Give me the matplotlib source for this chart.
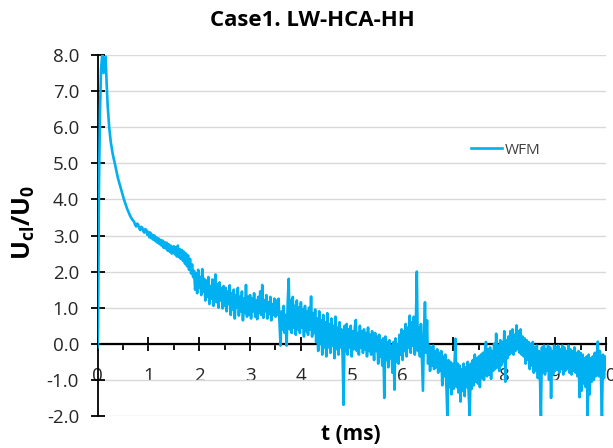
import matplotlib
matplotlib.use("Agg")
import matplotlib.pyplot as plt
from matplotlib.ticker import MultipleLocator, FormatStrFormatter

plt.rcParams['axes.unicode_minus'] = False
plt.rcParams['mathtext.fontset'] = 'custom'
plt.rcParams['mathtext.rm'] = 'Open Sans'
plt.rcParams['mathtext.bf'] = 'Open Sans:bold'

title = "Case1. LW-HCA-HH"
series_name = "WFM"
x_label = "t (ms)"
y_label = r"$\mathbf{U_{cl}/U_{0}}$"
x_ticks = [0, 1, 2, 3, 4, 5, 6, 7, 8, 9, 10]
y_ticks = [-2, -1, 0, 1, 2, 3, 4, 5, 6, 7, 8]

time_ms = [
    0.00, 0.01, 0.02, 0.03, 0.05, 0.07, 0.09, 0.10, 0.12, 0.14, 0.16, 0.18,
    0.20, 0.23, 0.26, 0.30, 0.34, 0.40, 0.46, 0.52, 0.58, 0.64, 0.68,
    # A
    0.72, 0.74, 0.76, 0.78, 0.80, 0.82, 0.84, 0.86, 0.88, 0.90, 0.92, 0.94, 0.96,
    # B
    0.98, 1.00, 1.02, 1.04, 1.06, 1.08, 1.10, 1.12, 1.14, 1.16, 1.18, 1.20, 1.22,
    1.24, 1.26, 1.28, 1.30, 1.32, 1.34, 1.36, 1.38, 1.40, 1.42, 1.44, 1.46, 1.48,
    # C
    1.50, 1.52, 1.54, 1.56, 1.58, 1.60, 1.62, 1.64, 1.66, 1.68, 1.70, 1.72, 1.74,
    1.76, 1.78, 1.80, 1.82, 1.84, 1.86, 1.88,
    # D
    1.90, 1.92, 1.94, 1.96, 1.98, 2.00, 2.02, 2.04, 2.06, 2.08, 2.10, 2.12, 2.14,
    2.16, 2.18, 2.20, 2.22, 2.24, 2.26, 2.28, 2.30, 2.32, 2.34, 2.36, 2.38, 2.40,
    2.42, 2.44, 2.46, 2.48,
    # E
    2.50, 2.52, 2.54, 2.56, 2.58, 2.60, 2.62, 2.64, 2.66, 2.68, 2.70, 2.72, 2.74,
    2.76, 2.78, 2.80, 2.82, 2.84, 2.86, 2.88, 2.90, 2.92, 2.94, 2.96,
    # F
    2.98, 3.00, 3.02, 3.04, 3.06, 3.08, 3.10, 3.12, 3.14, 3.16, 3.18, 3.20, 3.22,
    3.24, 3.26, 3.28, 3.30, 3.32, 3.34, 3.36, 3.38, 3.40, 3.42, 3.44, 3.46, 3.48,
    # G
    3.50, 3.52, 3.54, 3.56, 3.58, 3.60, 3.62, 3.64, 3.66, 3.68, 3.70, 3.72, 3.74,
    3.76, 3.78, 3.80, 3.82, 3.84, 3.86, 3.88, 3.90, 3.92, 3.94, 3.96,
    # H
    3.98, 4.00, 4.02, 4.04, 4.06, 4.08, 4.10, 4.12, 4.14, 4.16, 4.18, 4.20, 4.22,
    4.24, 4.26, 4.28, 4.30, 4.32, 4.34, 4.36, 4.38, 4.40, 4.42, 4.44, 4.46, 4.48,
    # I
    4.50, 4.52, 4.54, 4.56, 4.58, 4.60, 4.62, 4.64, 4.66, 4.68, 4.70, 4.72, 4.74,
    4.76, 4.78, 4.80, 4.82, 4.84, 4.86, 4.88, 4.90, 4.92, 4.94, 4.96,
    # J
    4.98, 5.00, 5.02, 5.04, 5.06, 5.08, 5.10, 5.12, 5.14, 5.16, 5.18, 5.20, 5.22,
    5.24, 5.26, 5.28, 5.30, 5.32, 5.34, 5.36, 5.38, 5.40, 5.42, 5.44, 5.46, 5.48,
    # K
    5.50, 5.52, 5.54, 5.56, 5.58, 5.60, 5.62, 5.64, 5.66, 5.68, 5.70, 5.72, 5.74,
    5.76, 5.78, 5.80, 5.82, 5.84, 5.86, 5.88, 5.90, 5.92, 5.94, 5.96,
    # L
    5.98, 6.00, 6.02, 6.04, 6.06, 6.08, 6.10, 6.12, 6.14, 6.16, 6.18, 6.20, 6.22,
    6.24, 6.26, 6.28, 6.30, 6.32, 6.34, 6.36, 6.38, 6.40, 6.42, 6.44, 6.46, 6.48,
    # M
    6.50, 6.52, 6.54, 6.56, 6.58, 6.60, 6.62, 6.64, 6.66, 6.68, 6.70, 6.72, 6.74,
    6.76, 6.78, 6.80, 6.82, 6.84, 6.86, 6.88, 6.90, 6.92, 6.94, 6.96,
    # N
    6.98, 7.00, 7.02, 7.04, 7.06, 7.08, 7.10, 7.12, 7.14, 7.16, 7.18, 7.20, 7.22,
    7.24, 7.26, 7.28, 7.30, 7.32, 7.34, 7.36, 7.38, 7.40, 7.42, 7.44, 7.46, 7.48,
    # O
    7.50, 7.52, 7.54, 7.56, 7.58, 7.60, 7.62, 7.64, 7.66, 7.68, 7.70, 7.72, 7.74,
    7.76, 7.78, 7.80, 7.82, 7.84, 7.86, 7.88, 7.90, 7.92, 7.94, 7.96,
    # P
    7.98, 8.00, 8.02, 8.04, 8.06, 8.08, 8.10, 8.12, 8.14, 8.16, 8.18, 8.20, 8.22,
    8.24, 8.26, 8.28, 8.30, 8.32, 8.34, 8.36, 8.38, 8.40, 8.42, 8.44, 8.46, 8.48,
    # Q
    8.50, 8.52, 8.54, 8.56, 8.58, 8.60, 8.62, 8.64, 8.66, 8.68, 8.70, 8.72, 8.74,
    8.76, 8.78, 8.80, 8.82, 8.84, 8.86, 8.88, 8.90, 8.92, 8.94, 8.96,
    # R
    8.98, 9.00, 9.02, 9.04, 9.06, 9.08, 9.10, 9.12, 9.14, 9.16, 9.18, 9.20, 9.22,
    9.24, 9.26, 9.28, 9.30, 9.32, 9.34, 9.36, 9.38, 9.40, 9.42, 9.44, 9.46, 9.48,
    # S
    9.50, 9.52, 9.54, 9.56, 9.58, 9.60, 9.62, 9.64, 9.66, 9.68, 9.70, 9.72, 9.74,
    9.76, 9.78, 9.80, 9.82, 9.84, 9.86, 9.88, 9.90, 9.92, 9.94, 9.96, 9.98, 10.00,
]

u_ratio = [
    -0.10, 0.30, 2.50, 4.50, 6.50, 7.60, 7.95, 8.00, 7.50, 7.90, 7.95, 7.20,
    6.60, 6.00, 5.60, 5.25, 5.00, 4.60, 4.30, 4.00, 3.75, 3.55, 3.45,
    # A
    3.38, 3.30, 3.25, 3.33, 3.30, 3.20, 3.15, 3.24, 3.22, 3.12, 3.08, 3.18, 3.15,
    # B
    3.02, 3.10, 2.95, 3.08, 2.92, 3.02, 2.88, 3.00, 2.84, 2.95, 2.80, 2.92, 2.76,
    2.88, 2.72, 2.86, 2.66, 2.82, 2.64, 2.80, 2.58, 2.76, 2.55, 2.72, 2.50, 2.68,
    # C
    2.70, 2.48, 2.68, 2.42, 2.72, 2.40, 2.62, 2.35, 2.60, 2.30, 2.55, 2.22, 2.50,
    2.15, 2.45, 2.05, 2.35, 1.95, 2.20, 1.85,
    # D
    2.02, 1.50, 1.95, 1.40, 2.05, 1.55, 1.85, 1.35, 2.07, 1.45, 1.80, 1.20, 1.75,
    1.30, 1.85, 1.10, 1.60, 1.25, 1.78, 1.05, 1.55, 1.92, 1.15, 1.65, 1.00, 1.70,
    1.20, 1.55, 0.98, 1.60,
    # E
    1.05, 1.55, 0.90, 1.45, 1.10, 1.62, 0.80, 1.40, 0.95, 1.50, 0.70, 1.35, 1.00,
    1.55, 0.78, 1.30, 0.90, 1.45, 0.65, 1.25, 0.85, 1.63, 0.75, 1.30,
    # F
    0.80, 1.35, 0.70, 1.25, 0.90, 1.40, 0.75, 1.20, 0.68, 1.30, 0.85, 1.45, 0.80,
    1.63, 0.72, 1.20, 0.90, 1.35, 0.70, 1.15, 0.82, 1.30, 0.65, 1.10, 0.80, 1.25,
    # G
    0.75, 1.20, 0.80, 1.25, 0.55, -0.05, 0.90, 0.40, 1.05, 0.30, 0.80, -0.05, 1.10,
    1.80, 0.40, 1.20, 0.30, 1.30, 0.45, 1.05, 0.25, 1.20, 0.40, 1.00,
    # H
    0.30, 1.15, 0.45, 0.95, 0.20, 1.05, 0.35, 0.90, 0.25, 1.00, 0.40, 1.31, 0.20,
    0.85, 0.30, 0.95, 0.05, 0.70, -0.20, 0.90, 0.00, 0.65, -0.30, 0.80, -0.10, 0.60,
    # I
    -0.35, 0.85, -0.10, 0.55, -0.25, 0.70, -0.05, 0.50, -0.40, 0.75, -0.15, 0.45, -0.30,
    0.60, -0.10, 0.40, -0.35, -1.69, 0.50, -0.20, 0.55, -0.30, 0.40, -0.10,
    # J
    0.50, -0.35, 0.35, -0.15, 0.45, 0.66, -0.20, 0.30, -0.30, 0.50, -0.10, 0.35, -0.25,
    0.40, -0.15, 0.30, -0.35, 0.45, -0.20, 0.25, -0.30, 0.35, -0.10, -0.45, 0.30, -0.20,
    # K
    0.20, -0.55, 0.25, -0.35, 0.10, -0.60, 0.15, -1.50, 0.20, -0.45, 0.05, -0.65, 0.10,
    -0.40, -0.05, -0.80, 0.05, -1.27, 0.15, -0.50, 0.00, -0.55, 0.25, -0.30,
    # L
    0.40, -0.45, 0.35, -0.20, 0.55, -0.35, 0.45, -0.10, 0.78, -0.25, 0.60, -0.05, 0.75,
    -0.30, 0.50, 2.00, -0.20, 0.45, -0.35, 0.55, -0.40, -1.30, 0.30, 1.15, -0.25, 0.65,
    # M
    -0.55, -0.05, -0.75, -0.10, -0.60, -0.05, -0.70, -0.20, -0.65, -0.15, -0.80, -0.25, -0.75,
    -0.20, -1.15, -0.35, -0.90, -0.30, -1.10, -2.00, -0.45, -1.20, -0.50, -1.40,
    # N
    -0.55, -1.25, -0.60, 0.14, -1.20, -0.55, -1.35, -0.60, -1.60, -0.70, -1.30, -0.55, -1.45,
    -0.65, -1.20, -0.50, -1.40, -2.00, -0.55, -1.25, -0.45, -1.15, -0.30, -1.05, -0.40, -1.10,
    # O
    -0.35, -1.20, -0.30, -0.95, -0.25, -1.00, -0.20, 0.05, -0.90, -0.15, -0.85, -0.10, -0.97,
    -0.20, -0.75, 0.00, -0.70, 0.28, -0.65, -0.05, -0.75, 0.10, -0.60, 0.05,
    # P
    -0.50, 0.35, -1.05, 0.10, -0.40, 0.20, -0.30, 0.35, -0.25, 0.40, -0.30, 0.25, -0.20,
    0.51, -0.15, 0.35, -0.25, 0.40, -0.30, 0.20, -0.35, 0.15, -0.55, 0.10, -0.45, 0.05,
    # Q
    -0.70, 0.00, -0.60, 0.05, -0.80, -0.10, -0.75, -0.05, -0.95, -0.20, -0.85, -2.00, -0.10,
    -0.80, -0.05, -0.85, -0.15, -0.75, -0.05, -1.00, -0.10, -1.50, -0.20, -0.85,
    # R
    -0.05, -0.75, -0.10, -0.70, -0.05, -0.80, -0.15, -0.70, -0.05, -0.85, -0.10, -0.75, -0.20,
    -0.70, -0.05, -0.80, -0.15, -0.85, -0.20, -0.75, -0.10, -0.80, -0.25, -0.90, -0.20, -1.48,
    # S
    -0.25, -1.30, -0.30, -1.10, -0.40, -1.20, -0.35, -2.00, -0.30, -1.40, -0.40, -1.05, -0.35,
    -1.00, -0.25, -0.90, -0.30, 0.06, -0.90, -0.20, -0.85, -2.00, -0.30, -0.95, -0.35, -0.70,
]

assert len(time_ms) == len(u_ratio)

W, H = 613, 448
fig = plt.figure(figsize=(W / 100, H / 100), dpi=100)
ax = fig.add_axes([97.5 / W, 1 - 416 / H, (606 - 97.5) / W, (416 - 55) / H])

ax.plot(time_ms, u_ratio, color='#00B0F0', lw=1.9, zorder=3,
        solid_joinstyle='round', label=series_name)

ax.set_xlim(0, 10)
ax.set_ylim(-2, 8)
ax.set_xticks(x_ticks)
ax.set_yticks(y_ticks)
ax.xaxis.set_minor_locator(MultipleLocator(0.5))
ax.yaxis.set_major_formatter(FormatStrFormatter('%.1f'))

ax.grid(axis='y', color='#D9D9D9', lw=1.0, zorder=0)
ax.set_axisbelow(True)

for s in ['top', 'right']:
    ax.spines[s].set_visible(False)
ax.spines['bottom'].set_position(('data', 0))
ax.spines['bottom'].set_color('black')
ax.spines['bottom'].set_linewidth(1.6)
ax.spines['bottom'].set_zorder(2.6)
ax.spines['left'].set_color('black')
ax.spines['left'].set_linewidth(1.3)

ax.tick_params(axis='y', which='major', direction='inout', length=9.5, width=1.3,
               pad=8.5, colors='black')
ax.tick_params(axis='x', which='major', direction='inout', length=10, width=1.3,
               pad=12, colors='black')
ax.tick_params(axis='x', which='minor', direction='out', length=4, width=1.3, colors='black')
for lab in ax.get_xticklabels() + ax.get_yticklabels():
    lab.set_fontfamily('Open Sans')
    lab.set_fontsize(13.5)
    lab.set_color('#262626')

fig.text(312 / W, 1 - 20 / H, title, ha='center', va='center',
         family='Open Sans', fontweight='bold', fontsize=16, color='black')
fig.text(351 / W, 1 - 434 / H, x_label, ha='center', va='center',
         family='Open Sans', fontweight='bold', fontsize=15, color='black')
fig.text(24 / W, 1 - 222 / H, y_label, ha='center', va='center', rotation=90,
         fontsize=18, color='black')

leg = ax.legend(loc='center left', bbox_to_anchor=(471 / W, 1 - 150 / H),
                bbox_transform=fig.transFigure, frameon=False, borderpad=0,
                borderaxespad=0, handlelength=2.0, handletextpad=0.2,
                prop=dict(family='Open Sans', size=11))
for t in leg.get_texts():
    t.set_color('#404040')

fig.savefig('out.png', dpi=100)
